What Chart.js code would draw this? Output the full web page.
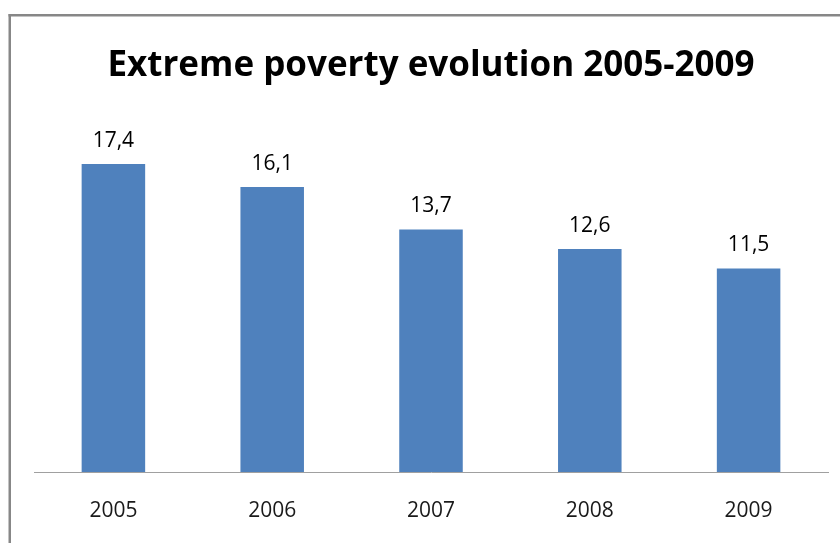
<!DOCTYPE html>
<html>
<head>
<meta charset="utf-8">
<script src="https://cdn.jsdelivr.net/npm/chart.js@4"></script>
<style>
  html, body { margin: 0; padding: 0; background: #fff; }
  #wrap { width: 840px; height: 543px; position: relative; }
</style>
</head>
<body>
<div id="wrap"><canvas id="povertyChart" width="840" height="543"></canvas></div>
<script>
const years = ['2005', '2006', '2007', '2008', '2009'];
const povertyRate = [17.4, 16.1, 13.7, 12.6, 11.5];
const chartTitle = 'Extreme poverty evolution 2005-2009';

// outer frame (top + left edges only visible in the picture)
const framePlugin = {
  id: 'frame',
  beforeDraw(chart) {
    const ctx = chart.ctx;
    ctx.save();
    ctx.fillStyle = '#fff';
    ctx.fillRect(0, 0, chart.width, chart.height);
    ctx.fillStyle = '#878787';
    ctx.fillRect(8.5, 14, chart.width, 2.5);
    ctx.fillRect(8.5, 14, 2.5, chart.height);
    ctx.restore();
  }
};

// value labels above bars, comma decimal
const valueLabels = {
  id: 'valueLabels',
  afterDatasetsDraw(chart) {
    const ctx = chart.ctx;
    const meta = chart.getDatasetMeta(0);
    ctx.save();
    ctx.font = '21px "Open Sans"';
    ctx.fillStyle = '#000';
    ctx.textAlign = 'center';
    ctx.textBaseline = 'middle';
    meta.data.forEach((bar, i) => {
      const txt = povertyRate[i].toFixed(1).replace('.', ',');
      ctx.fillText(txt, bar.x, bar.y - 23);
    });
    ctx.restore();
  }
};

const ctx = document.getElementById('povertyChart').getContext('2d');

new Chart(ctx, {
  type: 'bar',
  data: {
    labels: years,
    datasets: [{
      data: povertyRate,
      backgroundColor: '#4f81bd',
      borderWidth: 0,
      barPercentage: 0.8,
      categoryPercentage: 0.5
    }]
  },
  options: {
    responsive: false,
    animation: false,
    layout: { padding: { left: 34, right: 12, top: 0, bottom: 20 } },
    plugins: {
      legend: { display: false },
      tooltip: { enabled: false },
      title: {
        display: true,
        text: chartTitle,
        color: '#000',
        font: { family: 'Open Sans', size: 35, weight: 'bold' },
        padding: { top: 45, bottom: 31 }
      }
    },
    scales: {
      y: {
        display: false,
        min: 0,
        max: 20
      },
      x: {
        grid: { display: false, drawTicks: false },
        border: { display: true, color: '#a0a0a0', width: 1 },
        afterFit(scale) { scale.height = 51; },
        ticks: {
          color: '#1a1a1a',
          padding: 26,
          font: { family: 'Open Sans', size: 21 }
        }
      }
    }
  },
  plugins: [framePlugin, valueLabels]
});
</script>
</body>
</html>
